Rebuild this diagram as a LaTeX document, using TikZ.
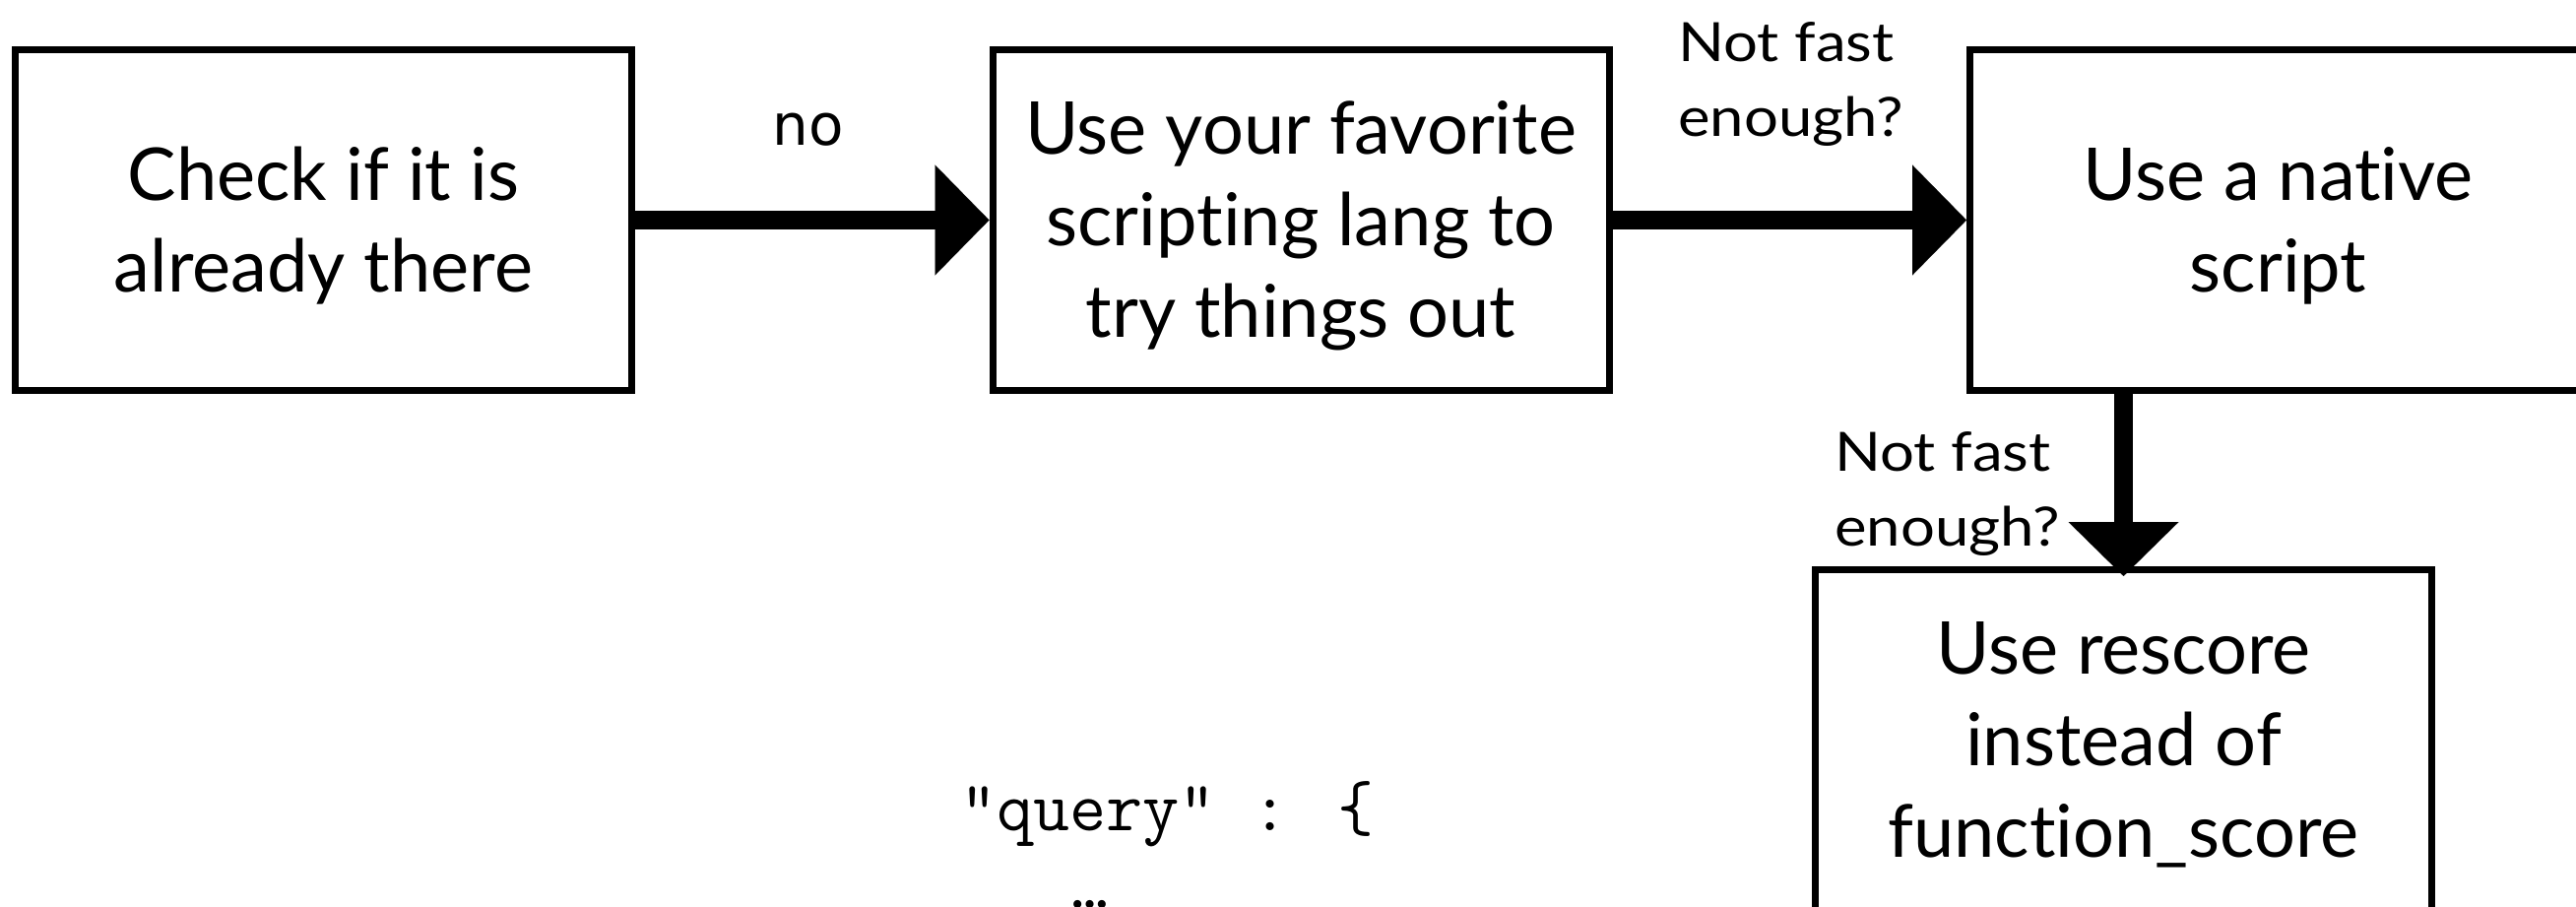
\documentclass[tikz,border=0pt]{standalone}
\usepackage{fontspec}
\setmainfont{Lato}[Ligatures={TeX,CommonOff}]
\newfontfamily\labelsans{DejaVu Sans}
\newfontfamily\notefont{Lato}[Ligatures={TeX,CommonOff},FakeStretch=1.12]
\usetikzlibrary{arrows.meta}
% invisible strut: fixes the first-line height and last-line depth of box texts
\newcommand\boxstrut{\rule[-18pt]{0pt}{88pt}}
\begin{document}
\begin{tikzpicture}[x=1pt,y=-1pt,
  stepbox/.style={draw=black,line width=7pt,minimum width=626pt,minimum height=346pt,
    inner sep=0pt,align=center,font=\fontsize{74}{93}\selectfont},
  flow/.style={line width=19pt,
    -{Triangle[length=55pt,width=112pt,line width=0.1pt]}},
  note/.style={align=left,inner sep=0pt,anchor=north west,
    font=\notefont\fontsize{55}{76}\selectfont}]
\useasboundingbox[fill=white] (0,0) rectangle (2616,921);

% process boxes
\node[stepbox] (check)   at (328.5,223.5)  {\boxstrut Check if it is\\\boxstrut already there};
\node[stepbox] (script)  at (1321,223.5)   {\boxstrut Use your favorite\\\boxstrut scripting lang to\\\boxstrut try things out};
\node[stepbox] (native)  at (2313.5,223.5) {\boxstrut Use a native\\\boxstrut script};
\node[stepbox] (rescore) at (2156.5,751)   {\boxstrut Use rescore\\\boxstrut instead of\\\boxstrut function\_score};

% connectors
\draw[flow] (check.east) -- (script.west);
\draw[flow] (script.east) -- (native.west);
\draw[flow] (rescore.north |- native.south) -- ([yshift=-10.5pt]rescore.north);

% connector labels
\node[font=\labelsans\fontsize{58}{70}\selectfont,anchor=base,inner sep=0pt] (no) at (821,147) {no};
\node[note] (slow1) at (1704,12)  {\rule{0pt}{50pt}Not fast\\enough?};
\node[note] (slow2) at (1863,428) {\rule{0pt}{50pt}Not fast\\enough?};

% query snippet (typewriter face)
\node[font=\ttfamily\fontsize{72}{79}\selectfont,anchor=north west,align=left,inner sep=0pt]
  (query) at (975,783) {\rule{0pt}{60pt}"query" : \{\\\hspace*{113.4pt}\textellipsis};
\end{tikzpicture}
\end{document}
